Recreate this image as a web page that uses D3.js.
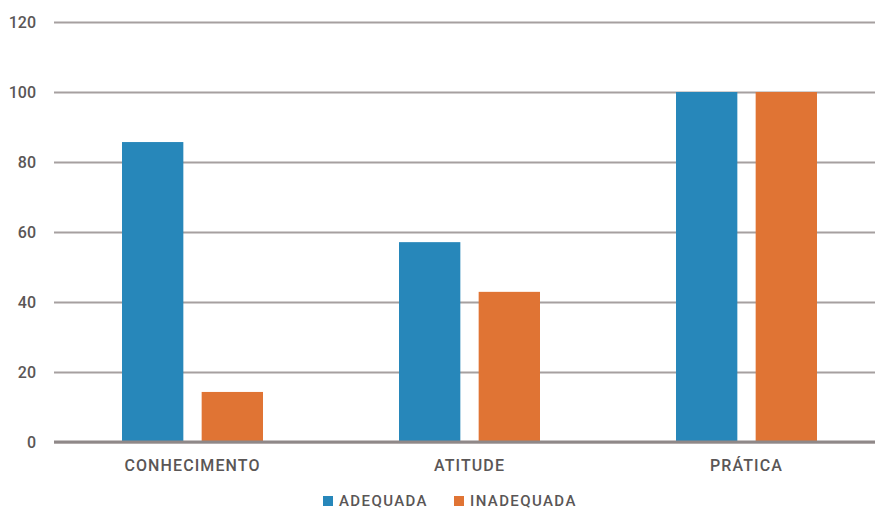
<!DOCTYPE html>
<html>
<head>
<meta charset="utf-8">
<script src="https://cdn.jsdelivr.net/npm/d3@7"></script>
<style>
  html, body { margin: 0; padding: 0; background: #fff; }
  svg { display: block; }
  text { font-family: Roboto, "DejaVu Sans", sans-serif; fill: #5a5656; }
</style>
</head>
<body>
<svg id="chart" width="875" height="510"></svg>
<script>
// Categories, series and y ticks
const categories = ["CONHECIMENTO", "ATITUDE", "PRÁTICA"];
const seriesNames = ["ADEQUADA", "INADEQUADA"];
const adequada = [85.7, 57.1, 100];
const inadequada = [14.3, 42.9, 100];
const yTicks = [0, 20, 40, 60, 80, 100, 120];
const colors = ["#2787ba", "#e07434"];

const svg = d3.select("#chart");
const margin = { left: 54, top: 22, bottom: 442 };
const plotRight = 54 + 277 * 3;

const x = d3.scaleBand().domain(categories).range([margin.left, plotRight]);
const xSub = d3.scaleBand().domain(seriesNames).range([x.bandwidth() / 2 - 70.5, x.bandwidth() / 2 + 70.5]).paddingInner(0.23);
const y = d3.scaleLinear().domain([0, 120]).range([margin.bottom, margin.top]);

// Horizontal grid with labels
const yAxis = d3.axisLeft(y).tickValues(yTicks).tickSize(-(plotRight - margin.left)).tickPadding(18);
const gy = svg.append("g").attr("transform", `translate(${margin.left},0)`).call(yAxis);
gy.select(".domain").remove();
gy.selectAll(".tick line").attr("stroke", "#a6a0a0").attr("stroke-width", 2);
gy.selectAll(".tick text")
  .attr("font-size", 16).attr("font-weight", 500).style("fill", "#5a5656")
  .attr("font-family", "Roboto, sans-serif");

// Bars
const data = categories.map((c, i) => ({ cat: c, values: [
  { key: seriesNames[0], v: adequada[i] },
  { key: seriesNames[1], v: inadequada[i] }
]}));

const groups = svg.append("g").selectAll("g").data(data).join("g")
  .attr("transform", d => `translate(${x(d.cat)},0)`);
groups.selectAll("rect").data(d => d.values).join("rect")
  .attr("x", d => xSub(d.key))
  .attr("width", xSub.bandwidth())
  .attr("y", d => y(d.v))
  .attr("height", d => y(0) - y(d.v))
  .attr("fill", (d, i) => colors[i]);

// Baseline
svg.append("line")
  .attr("x1", margin.left).attr("x2", plotRight)
  .attr("y1", y(0)).attr("y2", y(0))
  .attr("stroke", "#8f8888").attr("stroke-width", 3);

// Category labels
const xAxis = d3.axisBottom(x).tickSize(0).tickPadding(18);
const gx = svg.append("g").attr("transform", `translate(0,${y(0)})`).call(xAxis);
gx.select(".domain").remove();
gx.selectAll(".tick text")
  .attr("font-size", 16).attr("font-weight", 500).attr("letter-spacing", 1.1)
  .style("fill", "#5a5656").attr("font-family", "Roboto, sans-serif");

// Legend
const legendX = [323, 454];
const legend = svg.append("g").selectAll("g").data(seriesNames).join("g")
  .attr("transform", (d, i) => `translate(${legendX[i]},496)`);
legend.append("rect").attr("width", 10).attr("height", 10).attr("fill", (d, i) => colors[i]);
legend.append("text").attr("x", 16).attr("y", 10)
  .attr("font-size", 15).attr("font-weight", 500).attr("letter-spacing", 1.4)
  .text(d => d);
</script>
</body>
</html>
